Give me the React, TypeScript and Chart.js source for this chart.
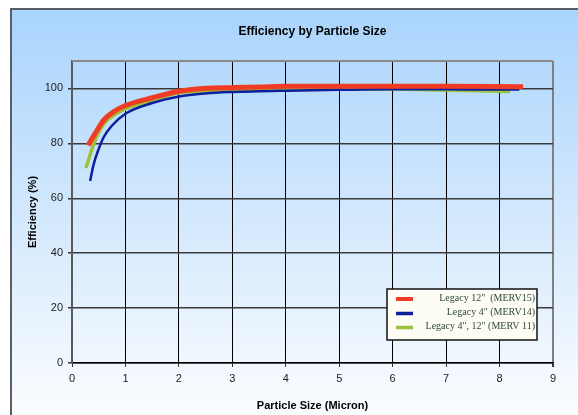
import React, { useEffect, useRef } from "react";
import { Chart, registerables } from "chart.js";

Chart.register(...registerables);

const titleText = "Efficiency by Particle Size";
const xAxisTitle = "Particle Size (Micron)";
const yAxisTitle = "Efficiency (%)";

const seriesNames = ['Legacy 12"  (MERV15)', 'Legacy 4" (MERV14)', 'Legacy 4", 12" (MERV 11)'];

const merv15X = [0.3, 0.45, 0.6, 0.8, 1.0, 1.5, 2.0, 2.5, 3.0, 3.5, 4.0, 5.0, 6.0, 7.0, 8.0, 8.44];
const merv15Y = [79.3, 84.2, 88.6, 91.8, 93.8, 96.6, 99.0, 100.1, 100.3, 100.5, 100.8, 100.8, 100.8, 100.8, 100.7, 100.6];

const merv14X = [0.34, 0.4, 0.5, 0.6, 0.75, 1.0, 1.5, 2.0, 2.5, 3.0, 4.0, 5.0, 6.0, 7.0, 8.0, 8.37];
const merv14Y = [66.3, 72.0, 78.0, 82.5, 86.5, 90.8, 94.7, 97.1, 98.2, 98.7, 99.2, 99.5, 99.7, 99.7, 99.6, 99.6];

const merv11X = [0.26, 0.35, 0.45, 0.6, 0.8, 1.0, 1.5, 2.0, 2.5, 3.0, 4.0, 5.0, 6.0, 7.0, 8.2];
const merv11Y = [71.0, 76.5, 82.0, 87.2, 90.5, 92.6, 95.6, 98.4, 99.1, 99.3, 99.6, 99.8, 99.8, 99.4, 98.9];

const seriesColors = ["#f03c24", "#0c1f9e", "#9cc23a"];
const seriesWidths = [5, 2.5, 3.5];

const xMin = 0;
const xMax = 9;
const yMin = 0;
const yMax = 110;
const yStep = 20;

const FONT = "'Liberation Sans', Arial, sans-serif";

const toPoints = (xs: number[], ys: number[]) => xs.map((x, i) => ({ x, y: ys[i] }));

const decorPlugin = {
  id: "decor",
  beforeDraw(chart: any) {
    const { ctx, width, height } = chart;
    ctx.save();
    ctx.fillStyle = "#ffffff";
    ctx.fillRect(0, 0, width, height);
    const g = ctx.createLinearGradient(0, 9, 0, height + 20);
    g.addColorStop(0, "#a9d4fd");
    g.addColorStop(0.5, "#d4e9fd");
    g.addColorStop(1, "#ffffff");
    ctx.fillStyle = g;
    ctx.fillRect(11, 9, width + 20, height + 20);
    ctx.strokeStyle = "#5a5f66";
    ctx.lineWidth = 2;
    ctx.beginPath();
    ctx.moveTo(11, height + 20);
    ctx.lineTo(11, 9);
    ctx.lineTo(width + 20, 9);
    ctx.stroke();
    ctx.restore();
  },
  beforeDatasetsDraw(chart: any) {
    const { ctx, chartArea } = chart;
    ctx.save();
    ctx.strokeStyle = "#8a8a8a";
    ctx.lineWidth = 2;
    ctx.beginPath();
    ctx.moveTo(chartArea.left, chartArea.top);
    ctx.lineTo(chartArea.right, chartArea.top);
    ctx.stroke();
    ctx.restore();
  },
  afterDraw(chart: any) {
    const { ctx, chartArea } = chart;
    ctx.save();
    // title
    ctx.fillStyle = "#000000";
    ctx.font = `bold 12px ${FONT}`;
    ctx.textAlign = "center";
    ctx.textBaseline = "middle";
    ctx.fillText(titleText, (chartArea.left + chartArea.right) / 2, 32);

    // legend
    const bx = 387, by = 289, bw = 150, bh = 51;
    ctx.fillStyle = "#fdfdf6";
    ctx.fillRect(bx, by, bw, bh);
    ctx.strokeStyle = "#111111";
    ctx.lineWidth = 1.5;
    ctx.strokeRect(bx, by, bw, bh);
    const rowY = [299, 313.5, 327.5];
    ctx.font = `10px 'Liberation Serif', 'Times New Roman', serif`;
    ctx.textAlign = "right";
    ctx.textBaseline = "middle";
    seriesNames.forEach((name, i) => {
      ctx.strokeStyle = seriesColors[i];
      ctx.lineWidth = i === 0 ? 4 : 3.5;
      ctx.beginPath();
      ctx.moveTo(396, rowY[i]);
      ctx.lineTo(413, rowY[i]);
      ctx.stroke();
      ctx.fillStyle = "#2c4639";
      ctx.fillText(name, 535, rowY[i] - 1);
    });
    ctx.restore();
  },
};

export default function App() {
  const ref = useRef<HTMLCanvasElement | null>(null);

  useEffect(() => {
    if (!ref.current) return;
    const datasets = [
      toPoints(merv15X, merv15Y),
      toPoints(merv14X, merv14Y),
      toPoints(merv11X, merv11Y),
    ].map((data, i) => ({
      label: seriesNames[i],
      data,
      borderColor: seriesColors[i],
      backgroundColor: seriesColors[i],
      borderWidth: seriesWidths[i],
      pointRadius: 0,
      fill: false,
      cubicInterpolationMode: "monotone" as const,
      borderCapStyle: "butt" as const,
    }));

    const chart = new Chart(ref.current, {
      type: "line",
      data: { datasets },
      plugins: [decorPlugin],
      options: {
        animation: false,
        responsive: false,
        devicePixelRatio: 1,
        layout: { padding: { top: 61, right: 25, left: 0, bottom: 0 } },
        plugins: {
          legend: { display: false },
          title: { display: false },
          tooltip: { enabled: false },
        },
        scales: {
          x: {
            type: "linear",
            min: xMin,
            max: xMax,
            afterFit: (s: any) => {
              s.height = 52;
            },
            ticks: {
              stepSize: 1,
              padding: 5,
              color: "#222222",
              font: { family: FONT, size: 11 },
            },
            grid: {
              color: (c: any) => (c.tick && c.tick.value === xMax ? "#808080" : "#000000"),
              lineWidth: (c: any) => (c.tick && c.tick.value === xMax ? 2 : 1),
              tickColor: "#333333",
              tickLength: 4,
            },
            border: { color: "#000000", width: 1.5 },
            title: {
              display: true,
              text: xAxisTitle,
              color: "#000000",
              font: { family: FONT, size: 11, weight: "bold" },
              padding: { top: 0, bottom: 2.5 },
            },
          },
          y: {
            type: "linear",
            min: yMin,
            max: yMax,
            afterFit: (s: any) => {
              s.width = 72;
            },
            afterBuildTicks: (s: any) => {
              s.ticks = s.ticks.filter((t: any) => t.value <= 100);
            },
            ticks: {
              stepSize: yStep,
              padding: 5,
              color: "#222222",
              font: { family: FONT, size: 11 },
            },
            grid: {
              color: "#3a3a3a",
              lineWidth: 1.5,
              tickColor: "#333333",
              tickLength: 4,
            },
            border: { color: "#5a5a5a", width: 2 },
            title: {
              display: true,
              text: yAxisTitle,
              color: "#000000",
              font: { family: FONT, size: 11, weight: "bold" },
              padding: { top: 26, bottom: 0 },
            },
          },
        },
      },
    });
    return () => chart.destroy();
  }, []);

  return (
    <div style={{ position: "absolute", left: 0, top: 0, width: 578, height: 415 }}>
      <canvas ref={ref} width={578} height={415} style={{ display: "block" }} />
    </div>
  );
}
